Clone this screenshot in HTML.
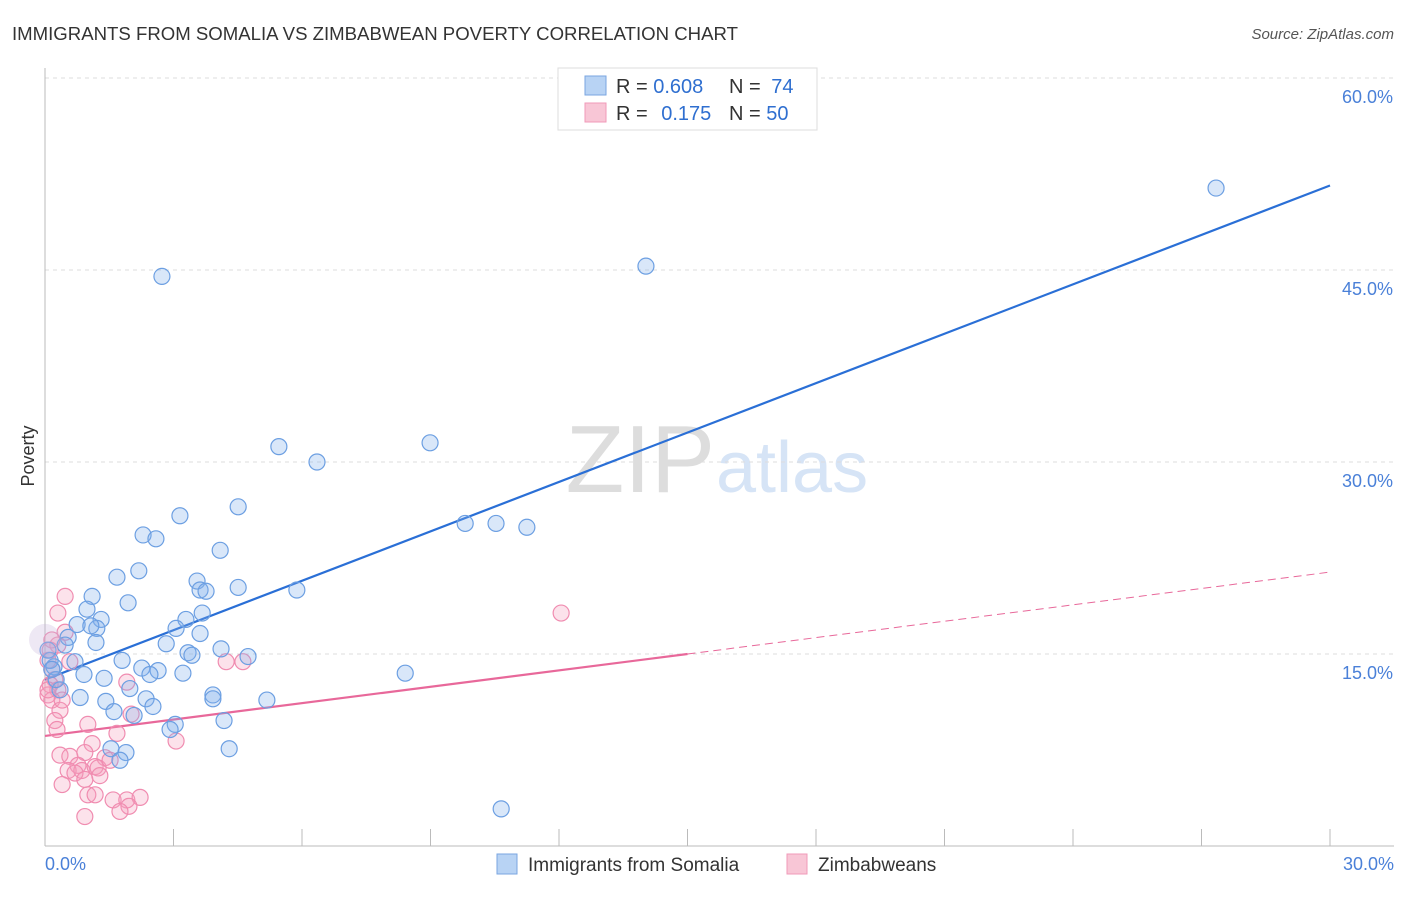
<!DOCTYPE html>
<html><head><meta charset="utf-8"><style>
body{margin:0;background:#fff;font-family:"Liberation Sans",sans-serif;}
svg text{font-family:"Liberation Sans",sans-serif;}
</style></head><body>
<svg id="chart" width="1406" height="892">
<text x="12" y="40" font-size="18.6" fill="#333">IMMIGRANTS FROM SOMALIA VS ZIMBABWEAN POVERTY CORRELATION CHART</text>
<text x="1394" y="39" font-size="15" fill="#555" font-style="italic" text-anchor="end">Source: ZipAtlas.com</text>
<text x="715" y="492" font-size="96" fill="#ddd" text-anchor="end" font-family="Liberation Serif">ZIP</text>
<text x="716" y="492" font-size="72" fill="#d6e4f6">atlas</text>
<text x="34" y="456" font-size="18" fill="#333" transform="rotate(-90 34 456)" text-anchor="middle">Poverty</text>
<g id="grid"></g><g id="ticks"></g><g id="trend"></g><g id="pts"></g>
<g>
<rect x="558" y="68" width="259" height="62" fill="#fff" stroke="#ddd"/>
<rect x="585" y="76" width="21" height="19" fill="#b8d3f4" stroke="#7aa6e0"/>
<rect x="585" y="103" width="21" height="19" fill="#f8c6d6" stroke="#f09ab8"/>
<text x="616" y="93" font-size="20" fill="#333">R = <tspan fill="#2f6fd0">0.608</tspan></text>
<text x="729" y="93" font-size="20" fill="#333">N = <tspan fill="#2f6fd0" dx="5">74</tspan></text>
<text x="616" y="120" font-size="20" fill="#333">R = <tspan fill="#2f6fd0" dx="8">0.175</tspan></text>
<text x="729" y="120" font-size="20" fill="#333">N = <tspan fill="#2f6fd0">50</tspan></text>
</g>
<g>
<rect x="497" y="854" width="20" height="20" fill="#b8d3f4" stroke="#7aa6e0"/>
<text x="528" y="871" font-size="19" fill="#333">Immigrants from Somalia</text>
<rect x="787" y="854" width="20" height="20" fill="#f8c6d6" stroke="#f09ab8"/>
<text x="818" y="871" font-size="19" fill="#333">Zimbabweans</text>
</g>
</svg>
<script>
const blueX=[27.34,14.03,2.73,5.46,6.35,8.99,9.81,10.53,11.25,3.15,4.51,2.29,2.59,4.09,1.68,2.19,1.10,1.94,0.98,3.55,4.51,5.88,3.62,3.76,3.67,3.29,3.06,1.31,0.75,1.21,1.07,0.54,1.19,0.47,3.62,2.83,4.11,3.34,3.43,4.74,1.80,0.70,0.21,2.26,2.64,2.45,3.22,0.91,1.38,8.41,1.98,0.35,0.82,3.92,3.92,5.18,1.42,2.36,2.52,1.61,2.08,4.18,3.04,2.92,1.54,1.89,4.30,1.75,10.65,0.07,0.12,0.26,0.16,0.0];
const blueY=[51.4,45.3,44.5,31.2,30.0,31.5,25.2,25.2,24.9,25.8,26.5,24.3,24.0,23.1,21.0,21.5,19.5,19.0,18.5,20.7,20.2,20.0,20.0,19.9,18.2,17.7,17.0,17.7,17.3,17.0,17.2,16.3,15.9,15.7,16.6,15.8,15.4,15.1,14.9,14.8,14.5,14.4,14.0,13.9,13.7,13.4,13.5,13.4,13.1,13.5,12.3,12.2,11.6,11.8,11.5,11.4,11.3,11.5,10.9,10.5,10.2,9.8,9.5,9.1,7.6,7.3,7.6,6.7,2.9,15.3,14.5,13.0,13.8,16.1];
const pinkX=[0.47,0.30,0.47,0.30,0.58,0.07,0.16,0.23,0.12,0.30,0.07,0.16,0.35,0.23,0.28,1.91,2.01,4.23,4.62,3.06,1.68,1.00,1.10,0.35,0.58,0.93,1.40,0.77,0.54,0.86,1.17,0.70,0.40,1.24,0.93,1.52,1.00,1.17,1.59,1.91,2.22,1.96,1.75,0.93,12.05,0.16,0.12,0.07,0.40,1.28];
const pinkY=[19.5,18.2,16.7,15.7,14.4,14.5,13.8,13.0,12.6,12.2,11.8,11.4,10.6,9.8,9.1,12.8,10.3,14.4,14.4,8.2,8.8,9.5,8.0,7.1,7.0,7.3,6.9,6.3,5.9,5.9,6.2,5.7,4.8,6.1,5.2,6.7,4.0,4.0,3.6,3.6,3.8,3.1,2.7,2.3,18.2,16.1,15.3,12.2,11.4,5.5];
const blueTrend=[13.0,51.6];
const pinkTrend=[8.6,21.4];
const yTicks=[15,30,45,60];
const xTickCount=10;
const NS="http://www.w3.org/2000/svg";
const X=v=>45+v/30*1285, Y=v=>846-v/15*192;
function mk(t,a,p){const e=document.createElementNS(NS,t);for(const k in a)e.setAttribute(k,a[k]);document.getElementById(p).appendChild(e);return e;}
yTicks.forEach(t=>{
 const l=mk('line',{x1:45,x2:1394,y1:Y(t),y2:Y(t),stroke:'#ddd','stroke-dasharray':'4,4'},'grid');
 
 
 const tx=mk('text',{x:1393,y:Y(t)+25,'font-size':18,fill:'#4a80d8','text-anchor':'end'},'grid');tx.textContent=t.toFixed(1)+'%';
 
 
});
const ax=mk('line',{x1:45,x2:45,y1:68,y2:846,stroke:'#bbb'},'ticks');


const bx=mk('line',{x1:45,x2:1394,y1:846,y2:846,stroke:'#bbb'},'ticks');


for(let i=1;i<=xTickCount;i++){const v=i*30/xTickCount;
 const t=mk('line',{x1:X(v),x2:X(v),y1:829,y2:846,stroke:'#bbb'},'ticks');
 
 }
[[0,'start',45],[30,'end',1394]].forEach(([v,a,x])=>{const t=mk('text',{x:x,y:870,'font-size':18,fill:'#4a80d8','text-anchor':a},'ticks');t.textContent=v.toFixed(1)+'%';
 
 });
const bl=mk('line',{x1:X(0),y1:Y(blueTrend[0]),x2:X(30),y2:Y(blueTrend[1]),stroke:'#2a6fd6','stroke-width':2.2},'trend');


const pm=(pinkTrend[0]+pinkTrend[1])/2;
const pl=mk('line',{x1:X(0),y1:Y(pinkTrend[0]),x2:X(15),y2:Y(pm),stroke:'#e8689a','stroke-width':2.2},'trend');


const pd=mk('line',{x1:X(15),y1:Y(pm),x2:X(30),y2:Y(pinkTrend[1]),stroke:'#e8689a','stroke-width':1,'stroke-dasharray':'8,5'},'trend');


pinkX.forEach((x,i)=>{const c=mk('circle',{cx:X(x),cy:Y(pinkY[i]),r:8,fill:'rgba(245,160,190,0.3)',stroke:'#f08cb0','stroke-width':1.2},'pts');
 
 });
blueX.forEach((x,i)=>{const big=i==blueX.length-1;const c=mk('circle',{cx:X(x),cy:Y(blueY[i]),r:big?16:8,fill:big?'rgba(200,180,220,0.3)':'rgba(130,175,235,0.3)',stroke:big?'none':'#6c9fe2','stroke-width':1.2},'pts');
 
 });
</script>
</body></html>
